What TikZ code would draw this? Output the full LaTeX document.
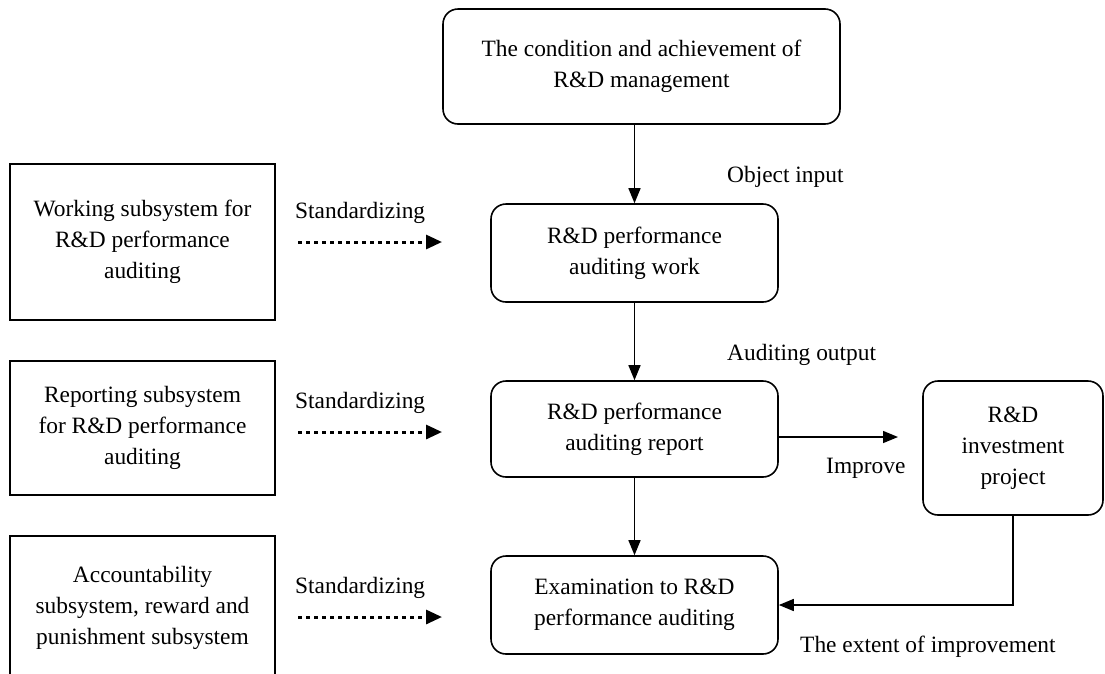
\documentclass[tikz,border=0pt]{standalone}
\usepackage{fontspec}
\setmainfont{Liberation Serif}
\usetikzlibrary{arrows.meta}
\begin{document}
\begin{tikzpicture}[x=1pt,y=-1pt,
  every node/.style={font=\fontsize{23.4}{31}\selectfont, inner sep=0pt},
  rbox/.style={draw, line width=1.6pt, rounded corners=15pt, align=center},
  sbox/.style={draw, line width=1.6pt, align=center},
  arr/.style={line width=1.5pt, -{Triangle[length=15pt,width=12pt]}},
  dots/.style={line width=3pt, dash pattern=on 4pt off 4pt, -{Triangle[length=16pt,width=14pt]}},
  lbl/.style={anchor=west}
]
\useasboundingbox (0,0) rectangle (1105,673);
\clip (0,0) rectangle (1105,673);
% central column
\node[rbox, minimum width=397pt, minimum height=115pt] (cond) at (641.5,66.5) {The condition and achievement of\\R\&D management};
\node[rbox, minimum width=287pt, minimum height=98pt] (work) at (634.5,253) {R\&D performance\\auditing work};
\node[rbox, minimum width=287pt, minimum height=96pt] (report) at (634.5,429) {R\&D performance\\auditing report};
\node[rbox, minimum width=287pt, minimum height=98pt] (exam) at (634.5,605) {Examination to R\&D\\performance auditing};
\node[rbox, minimum width=180pt, minimum height=134pt] (inv) at (1013,448) {R\&D\\investment\\project};
% left column
\node[sbox, minimum width=265pt, minimum height=156pt] (wsub) at (142.5,242) {Working subsystem for\\R\&D performance\\auditing};
\node[sbox, minimum width=265pt, minimum height=134pt] (rsub) at (142.5,428) {Reporting subsystem\\for R\&D performance\\auditing};
\node[sbox, minimum width=265pt, minimum height=144pt] (asub) at (142.5,608) {Accountability\\subsystem, reward and\\punishment subsystem};
% solid arrows
\draw[arr] (work.north |- cond.south) -- (work.north);
\draw[arr] (work) -- (report);
\draw[arr] (report) -- (exam);
\coordinate (ritip) at (898,437);
\draw[arr] (report.east |- ritip) -- (ritip);
\draw[arr] (inv.south) -- (inv.south |- exam.east) -- (exam.east);
% dotted arrows
\coordinate (d1s) at (298,242); \coordinate (d1e) at (442,242);
\coordinate (d2s) at (298,432); \coordinate (d2e) at (442,432);
\coordinate (d3s) at (298,617); \coordinate (d3e) at (442,617);
\draw[dots] (d1s) -- (d1e);
\draw[dots] (d2s) -- (d2e);
\draw[dots] (d3s) -- (d3e);
% labels
\node[lbl] (s1) at (295,213) {Standardizing};
\node[lbl] (s2) at (295,403) {Standardizing};
\node[lbl] (s3) at (295,588) {Standardizing};
\node[lbl] (oi) at (727,177) {Object input};
\node[lbl] (ao) at (727,355) {Auditing output};
\node[lbl] (im) at (826,468) {Improve};
\node[lbl] (ext) at (800,647) {The extent of improvement};
\end{tikzpicture}
\end{document}
